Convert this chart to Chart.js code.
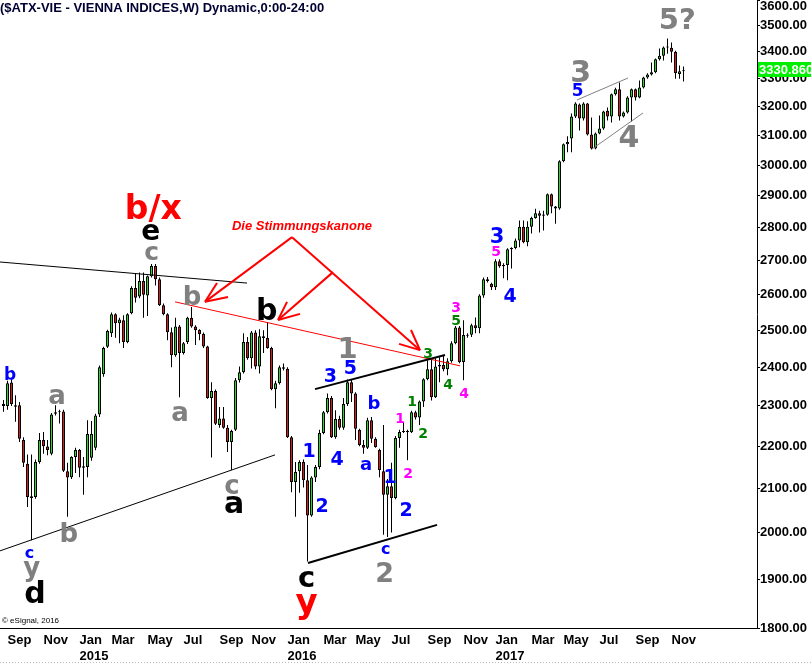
<!DOCTYPE html>
<html>
<head>
<meta charset="utf-8">
<script src="https://cdn.jsdelivr.net/npm/chart.js@4.4.1/dist/chart.umd.min.js"></script>
<style>
html, body { margin: 0; padding: 0; background: #fff; }
canvas { display: block; }
</style>
</head>
<body>
<canvas id="atx" width="811" height="664"></canvas>
<script>
// ATX weekly candles, week 0 = week of 25 Aug 2014, week 170 = week of 20 Nov 2017
var open = [2300,2300,2360,2302,2302,2215,2158,2078,2080,2162,2215,2199,2182,2280,2284,2286,2140,2126,2174,2191,
  2148,2150,2172,2196,2278,2382,2455,2492,2545,2520,2528,2468,2548,2620,2595,2640,2598,2654,2684,2645,
  2570,2545,2495,2432,2511,2438,2468,2535,2511,2501,2490,2456,2320,2338,2252,2268,2245,2210,2240,2366,
  2387,2468,2424,2494,2402,2484,2479,2452,2343,2358,2400,2396,2222,2115,2140,2162,2119,2038,2125,2150,
  2232,2284,2320,2222,2267,2245,2305,2361,2332,2240,2203,2196,2264,2218,2191,2140,2085,2105,2078,2220,
  2235,2237,2234,2284,2271,2311,2369,2395,2322,2402,2406,2395,2416,2465,2508,2414,2485,2488,2514,2506,
  2598,2645,2632,2622,2698,2683,2687,2734,2738,2761,2803,2755,2803,2830,2845,2837,2840,2905,2866,2860,
  3013,3070,3090,3166,3208,3159,3211,3103,3056,3107,3124,3186,3166,3244,3262,3166,3180,3233,3262,3233,
  3269,3305,3316,3324,3372,3385,3416,3415,3400,3318,3328];
var high = [2315,2365,2368,2327,2310,2222,2180,2180,2168,2232,2235,2215,2282,2302,2290,2290,2160,2176,2196,2193,
  2174,2264,2262,2280,2405,2455,2502,2550,2548,2535,2542,2548,2625,2663,2665,2665,2656,2690,2690,2650,
  2575,2548,2508,2535,2515,2468,2538,2565,2514,2503,2494,2458,2361,2342,2297,2297,2252,2240,2372,2402,
  2492,2482,2498,2500,2503,2500,2523,2455,2365,2405,2410,2400,2225,2162,2166,2168,2155,2128,2155,2240,
  2287,2332,2325,2289,2275,2320,2368,2368,2335,2243,2215,2270,2272,2222,2194,2252,2122,2160,2225,2240,
  2257,2240,2288,2288,2314,2371,2419,2424,2424,2427,2432,2424,2470,2512,2512,2528,2492,2518,2536,2602,
  2650,2652,2635,2704,2704,2692,2737,2740,2767,2822,2822,2820,2834,2859,2853,2853,2908,2908,2868,3016,
  3073,3097,3176,3216,3211,3216,3213,3162,3110,3169,3186,3197,3247,3268,3287,3183,3237,3265,3265,3294,
  3308,3320,3360,3375,3412,3420,3450,3435,3404,3349,3345];
var low = [2285,2290,2300,2260,2210,2150,2057,1983,2076,2158,2182,2178,2178,2276,2256,2138,2035,2122,2136,2126,
  2085,2126,2165,2190,2272,2375,2452,2482,2480,2465,2452,2465,2545,2578,2590,2535,2540,2650,2627,2568,
  2542,2473,2400,2428,2322,2434,2463,2507,2460,2473,2452,2318,2173,2252,2245,2243,2186,2143,2237,2360,
  2384,2420,2397,2395,2384,2438,2450,2340,2294,2355,2392,2220,2091,2035,2090,2102,1937,2035,2115,2145,
  2229,2281,2220,2218,2240,2240,2300,2310,2215,2200,2182,2193,2208,2196,2126,1995,1990,2000,2075,2196,
  2232,2166,2232,2266,2252,2297,2366,2314,2320,2361,2390,2379,2412,2462,2411,2366,2480,2482,2492,2492,
  2592,2636,2614,2614,2679,2648,2642,2677,2734,2740,2752,2743,2782,2828,2785,2791,2837,2845,2812,2856,
  3010,3043,3043,3160,3117,3152,3100,3052,3053,3104,3120,3152,3145,3240,3152,3162,3176,3148,3222,3230,
  3265,3300,3312,3320,3367,3367,3393,3360,3300,3300,3290];
var close = [2305,2358,2305,2298,2218,2160,2080,2082,2162,2215,2200,2191,2278,2284,2286,2141,2125,2174,2191,2148,
  2152,2230,2230,2276,2400,2452,2498,2545,2520,2530,2468,2545,2620,2592,2640,2600,2654,2684,2645,2570,
  2545,2495,2432,2511,2438,2465,2535,2511,2501,2490,2456,2320,2338,2255,2268,2245,2210,2237,2366,2387,
  2468,2424,2494,2402,2484,2479,2452,2343,2358,2400,2396,2222,2115,2138,2162,2119,2038,2125,2150,2232,
  2284,2320,2222,2267,2245,2305,2361,2332,2243,2203,2196,2264,2218,2198,2143,2085,2105,2078,2220,2235,
  2237,2234,2284,2271,2311,2369,2395,2322,2402,2406,2395,2416,2465,2508,2414,2487,2488,2514,2506,2598,
  2645,2640,2622,2698,2683,2687,2734,2738,2761,2803,2755,2803,2830,2845,2837,2841,2905,2866,2860,3013,
  3070,3078,3166,3211,3159,3211,3103,3056,3107,3124,3183,3166,3244,3262,3166,3180,3233,3262,3233,3269,
  3305,3316,3324,3372,3385,3416,3420,3400,3320,3328,3330.86];
var lastPrice = 3330.86;

// first weekly bar of each labelled month
var monthWeeks = [1,10,19,27,36,45,54,62,71,80,88,97,106,115,123,132,140,149,158,167];
var monthLabels = ['Sep','Nov',['Jan','2015'],'Mar','May','Jul','Sep','Nov',['Jan','2016'],'Mar','May','Jul',
  'Sep','Nov',['Jan','2017'],'Mar','May','Jul','Sep','Nov'];
var priceTicks = [1800,1900,2000,2100,2200,2300,2400,2500,2600,2700,2800,2900,3000,3100,3200,3300,3400,3500,3600];

var GRAY = '#808080', BLUE = '#0000ff', BLACK = '#000000', RED = '#ff0000', MAG = '#ff00ff', GRN = '#008000';

// wave labels: text, week, price, colour, size
var waves = [
  ['b/x', 37.45, 2863, RED, 33], ['e', 36.8, 2786, BLACK, 28], ['c', 37.05, 2723, GRAY, 25],
  ['b', 47.13, 2600, GRAY, 26], ['a', 44.13, 2282, GRAY, 26], ['a', 13.38, 2325, GRAY, 26],
  ['b', 1.63, 2385, BLUE, 17], ['b', 16.3, 2001, GRAY, 26], ['c', 6.5, 1954, BLUE, 16],
  ['y', 7.05, 1915, GRAY, 26], ['d', 7.88, 1874, BLACK, 30], ['c', 57.13, 2104, GRAY, 26],
  ['a', 57.63, 2062, BLACK, 30], ['b', 65.8, 2562, BLACK, 30], ['1', 86.05, 2454, GRAY, 29],
  ['3', 81.7, 2379, BLUE, 19], ['5', 86.7, 2400, BLUE, 19], ['b', 92.63, 2310, BLUE, 18],
  ['4', 83.38, 2172, BLUE, 19], ['a', 90.63, 2155, BLUE, 18], ['1', 76.38, 2191, BLUE, 19],
  ['2', 79.63, 2062, BLUE, 19], ['c', 75.8, 1899, BLACK, 29], ['y', 75.8, 1843, RED, 34],
  ['c', 95.55, 1962, BLUE, 16], ['2', 95.3, 1915, GRAY, 27], ['1', 96.63, 2129, BLUE, 19],
  ['2', 100.63, 2053, BLUE, 19], ['1', 99.13, 2270, MAG, 14], ['2', 101.13, 2136, MAG, 14],
  ['1', 102.13, 2312, GRN, 14], ['2', 104.88, 2232, GRN, 14], ['3', 106.13, 2438, GRN, 14],
  ['4', 111.13, 2356, GRN, 14], ['4', 115.13, 2333, MAG, 14], ['5', 113.13, 2529, GRN, 14],
  ['3', 113.13, 2565, MAG, 14], ['3', 123.38, 2778, BLUE, 21], ['5', 123.13, 2729, MAG, 14],
  ['4', 126.63, 2600, BLUE, 19], ['3', 144.3, 3330, GRAY, 30], ['5', 143.55, 3263, BLUE, 17],
  ['4', 156.38, 3099, GRAY, 30], ['5?', 168.45, 3526, GRAY, 29]
];

// trend lines: week1, price1, week2, price2, colour, width
var trendLines = [
  [-0.875, 2696, 60.88, 2634, BLACK, 1],
  [-0.875, 1960, 67.88, 2179, BLACK, 1],
  [42.88, 2580, 114.13, 2404, RED, 1],
  [77.88, 2343, 110.38, 2433, BLACK, 2],
  [76.13, 1934, 108.38, 2017, BLACK, 2],
  [143.38, 3224, 156.13, 3303, GRAY, 1],
  [147.13, 3054, 159.88, 3178, GRAY, 1]
];

// "Die Stimmungskanone" arrows
var arrowSegs = [
  [72.13, 2771, 50.38, 2580], [53.38, 2634, 50.38, 2580], [56.13, 2594, 50.38, 2580],
  [82.38, 2666, 68.63, 2529], [70.88, 2580, 68.63, 2529], [74.13, 2546, 68.63, 2529],
  [72.13, 2771, 104.13, 2446], [101.88, 2501, 104.13, 2446], [98.88, 2463, 104.13, 2446]
];
var noteText = ['Die Stimmungskanone', 74.63, 2802];

var weeks = open.map(function (v, i) { return i; });
var bodies = weeks.map(function (i) { return { x: i, y: [open[i], close[i]] }; });
var wicks = weeks.map(function (i) { return { x: i, y: [low[i], high[i]] }; });
var bodyColors = weeks.map(function (i) { return close[i] >= open[i] ? '#22dd22' : '#e01818'; });

function centeredText(c, t, x, y) {
  var m = c.measureText(t);
  c.fillText(t, x, y + (m.actualBoundingBoxAscent - m.actualBoundingBoxDescent) / 2);
}

var overlay = {
  id: 'overlay',
  afterDraw: function (chart) {
    var c = chart.ctx, xs = chart.scales.x, ys = chart.scales.y;
    var X = function (w) { return xs.getPixelForValue(w); };
    var Y = function (p) { return ys.getPixelForValue(p); };
    c.save();
    c.lineCap = 'butt';
    trendLines.forEach(function (l) {
      c.strokeStyle = l[4]; c.lineWidth = l[5];
      c.beginPath(); c.moveTo(X(l[0]), Y(l[1])); c.lineTo(X(l[2]), Y(l[3])); c.stroke();
    });
    c.strokeStyle = RED; c.lineWidth = 2;
    arrowSegs.forEach(function (s) {
      c.beginPath(); c.moveTo(X(s[0]), Y(s[1])); c.lineTo(X(s[2]), Y(s[3])); c.stroke();
    });
    c.textAlign = 'center';
    c.textBaseline = 'alphabetic';
    c.fillStyle = RED;
    c.font = 'italic bold 13px "Liberation Sans", Arial, sans-serif';
    centeredText(c, noteText[0], X(noteText[1]), Y(noteText[2]));
    waves.forEach(function (w) {
      c.fillStyle = w[3];
      c.font = 'bold ' + w[4] + 'px "DejaVu Sans", Verdana, sans-serif';
      centeredText(c, w[0], X(w[1]), Y(w[2]));
    });

    // price axis labels
    c.textAlign = 'left';
    c.textBaseline = 'middle';
    c.fillStyle = '#000';
    c.font = 'bold 13px "Liberation Sans", Arial, sans-serif';
    priceTicks.forEach(function (v) {
      c.fillText(v.toFixed(2), 760, Math.max(Y(v), 6));
    });
    var ty = Y(lastPrice);
    c.fillStyle = '#00ee00';
    c.fillRect(758, Math.round(ty) - 8, 53, 15);
    c.fillStyle = '#fff';
    c.fillText(lastPrice.toFixed(3), 759, ty);

    // header and footer
    c.fillStyle = '#000033';
    c.font = 'bold 13px "Liberation Sans", Arial, sans-serif';
    c.fillText('($ATX-VIE - VIENNA INDICES,W) Dynamic,0:00-24:00', 0, 8);
    c.fillStyle = '#000';
    c.font = '8px "Liberation Sans", Arial, sans-serif';
    c.fillText('\u00a9 eSignal, 2016', 2, 621);
    c.strokeStyle = '#bbbbbb'; c.lineWidth = 1;
    c.setLineDash([1, 2]);
    c.beginPath(); c.moveTo(0, 662.5); c.lineTo(811, 662.5); c.stroke();
    c.restore();
  }
};

new Chart(document.getElementById('atx'), {
  type: 'bar',
  data: {
    datasets: [
      {
        data: bodies, order: 0, grouped: false,
        backgroundColor: bodyColors, borderColor: '#000', borderWidth: 1,
        borderSkipped: false, inflateAmount: 0, minBarLength: 1,
        barPercentage: 1, categoryPercentage: 1, maxBarThickness: 3
      },
      {
        data: wicks, order: 1, grouped: false,
        backgroundColor: '#000', borderWidth: 0, inflateAmount: 0,
        barPercentage: 1, categoryPercentage: 1, maxBarThickness: 1
      }
    ]
  },
  options: {
    responsive: false,
    animation: false,
    events: [],
    layout: { padding: 0 },
    plugins: { legend: { display: false }, tooltip: { enabled: false } },
    scales: {
      x: {
        type: 'linear', min: -0.875, max: 188.375, offset: false, bounds: 'data',
        grid: { display: false, drawTicks: false, tickLength: 0 },
        border: { display: true, color: '#000', width: 1 },
        afterBuildTicks: function (s) { s.ticks = monthWeeks.map(function (w) { return { value: w }; }); },
        ticks: {
          autoSkip: false, maxRotation: 0, align: 'start', padding: 5, color: '#000',
          font: { family: '"Liberation Sans", Arial, sans-serif', size: 13, weight: 'bold', lineHeight: 1.2 },
          callback: function (v, i) { return monthLabels[i]; }
        },
        afterFit: function (s) { s.height = 36; s.paddingLeft = 0; s.paddingRight = 0; }
      },
      y: {
        type: 'logarithmic', position: 'right', min: 1800, max: 3600, bounds: 'data',
        grid: { drawOnChartArea: false, drawTicks: true, tickLength: 3, color: '#000' },
        border: { display: true, color: '#000', width: 1 },
        afterBuildTicks: function (s) { s.ticks = priceTicks.map(function (v) { return { value: v }; }); },
        ticks: { display: false },
        afterFit: function (s) { s.width = 54; s.paddingTop = 0; s.paddingBottom = 0; }
      }
    }
  },
  plugins: [overlay]
});
</script>
</body>
</html>
